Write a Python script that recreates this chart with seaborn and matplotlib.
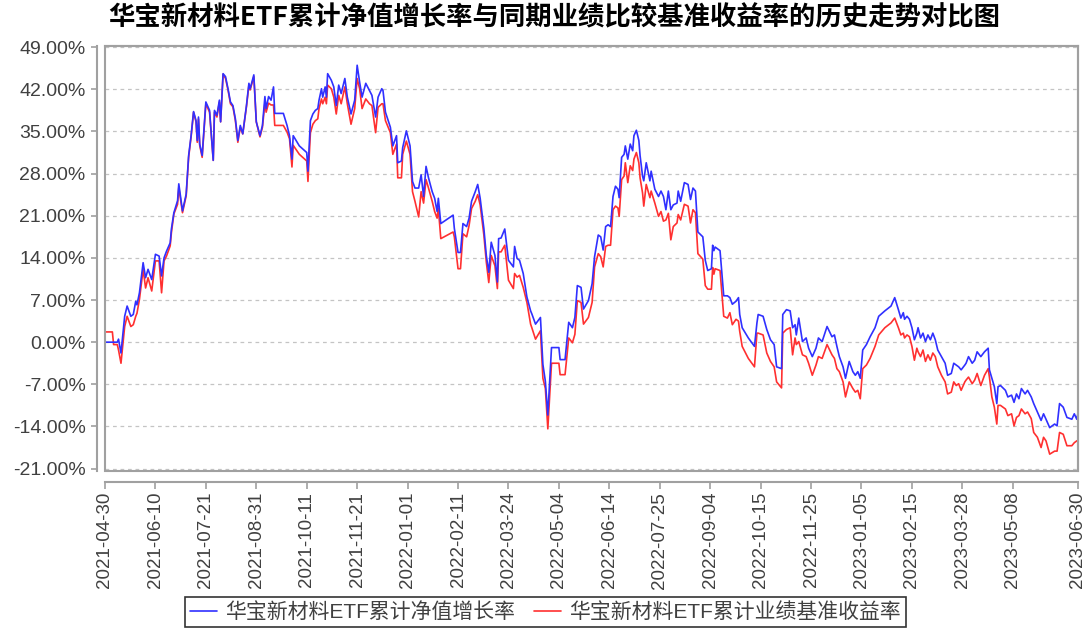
import numpy as np
import pandas as pd
import matplotlib
matplotlib.use("Agg")
import matplotlib.pyplot as plt
import matplotlib.dates as mdates
from matplotlib.ticker import FuncFormatter, FixedLocator, FixedFormatter
from matplotlib.patches import Rectangle
from matplotlib.lines import Line2D
import seaborn as sns

# ---------------- data ----------------
title = "华宝新材料ETF累计净值增长率与同期业绩比较基准收益率的历史走势对比图"
series_names = ["华宝新材料ETF累计净值增长率", "华宝新材料ETF累计业绩基准收益率"]
start_date = "2021-04-30"

day_offsets = [
    0, 6, 7, 10, 11, 13, 16, 18, 21, 23, 25, 26, 28, 31, 33, 35, 38, 41, 44, 46,
    48, 50, 53, 54, 56, 59, 60, 63, 66, 68, 70, 72, 74, 75, 76, 77, 79, 82, 85, 88,
    89, 91, 93, 94, 96, 98, 100, 102, 104, 106, 108, 110, 112, 115, 117, 118, 121, 123, 126, 128,
    130, 131, 133, 135, 137, 138, 145, 148, 150, 152, 153,
    158, 164, 165, 167, 169, 171, 173, 174, 176, 177, 179, 180, 181, 184, 186, 188, 190, 192, 195, 197,
    200, 203, 205, 207, 209, 212, 215, 217, 220, 222, 225, 226, 228, 232, 234, 237, 238, 241, 242, 245,
    248, 250, 252, 255, 257, 259, 261, 263, 266, 268, 270, 271, 273, 283, 284, 287, 289, 291, 294, 296,
    298, 301, 303, 305, 308, 310, 312, 314, 317, 319, 320,
    322, 325, 328, 332, 333, 335, 337, 340, 343, 346, 347, 350, 354, 356, 358, 360, 363, 369, 370, 374,
    377, 380, 382, 384, 387, 389, 393, 396, 398, 401, 403, 405, 407, 409, 411, 413, 415, 417, 418, 420,
    422, 423, 425, 427, 429, 430, 432, 434, 435, 437, 438, 440, 443, 444, 447, 450, 452, 454, 456, 458,
    460, 462, 465, 466, 468, 471, 474, 476, 478, 480,
    482, 486, 488, 490, 493, 494, 495, 496, 500, 503, 506, 508, 510, 513, 515, 516, 518, 523, 528, 530,
    531, 535, 538, 541, 544, 546, 550, 551, 554, 557, 559, 561, 562, 564, 567, 570, 572, 575, 578, 580,
    583, 587, 591, 593, 595, 597, 600, 602, 605, 608, 610, 612, 614, 616, 619, 622, 626, 629, 634, 639,
    642, 645, 647, 649, 650, 652, 654, 656, 658, 660, 661, 663, 665, 667, 669, 671, 673, 675, 677, 680,
    683, 685, 688, 690, 692, 694, 696, 699, 700, 702, 705, 707, 709, 712, 715, 718, 719, 721, 723, 725,
    726, 728, 732, 734, 737, 739, 741, 743, 745, 748, 750, 753, 755, 758, 761, 763, 765, 768, 772, 774,
    776, 779, 782, 786, 788, 790, 791,
]

nav_growth = [
    0.0, 0.0, 0.0, 0.0, 0.5, -1.8, 4.3, 6.0, 4.3, 4.6, 6.8, 6.2, 8.2, 13.2, 10.7, 12.1, 10.4, 14.6, 14.3, 11.0,
    14.0, 15.1, 16.5, 18.8, 21.5, 23.5, 26.3, 21.8, 24.6, 31.0, 34.3, 38.3, 36.8, 33.5, 37.4, 32.9, 31.0, 39.9, 38.5, 30.2,
    38.5, 37.7, 40.2, 36.6, 44.6, 44.1, 42.1, 39.9, 39.3, 37.1, 33.5, 36.0, 34.6, 39.3, 43.0, 42.1, 44.4, 36.6, 34.3, 36.0,
    40.8, 38.8, 40.8, 40.2, 42.4, 38.0, 38.0, 36.0, 34.3, 30.4, 34.3,
    32.6, 31.5, 28.4, 36.8, 37.9, 38.5, 38.8, 40.2, 42.1, 40.7, 42.4, 40.7, 44.6, 43.5, 42.4, 39.3, 42.7, 41.3, 43.8, 40.7,
    37.9, 40.2, 46.0, 43.2, 40.7, 43.0, 41.8, 41.0, 37.4, 40.7, 42.1, 41.8, 38.2, 35.7, 32.6, 34.3, 29.8, 30.1, 32.3, 35.1,
    32.6, 26.7, 25.6, 25.6, 27.8, 24.2, 29.2, 27.3, 25.0, 23.9, 21.7, 23.9, 19.7, 21.1, 18.9, 14.9, 14.9, 19.7, 19.2, 20.6,
    23.4, 25.0, 26.2, 23.9, 18.9, 14.4, 11.6, 16.6, 14.4, 10.0, 17.2,
    17.3, 18.8, 13.6, 12.5, 15.9, 13.9, 13.6, 11.4, 7.5, 5.2, 4.7, 3.0, 4.1, -3.7, -6.5, -12.1, -0.9, -0.9, -2.9, -2.9,
    3.3, 2.4, 4.1, 9.4, 9.1, 5.5, 6.9, 9.7, 14.2, 17.8, 17.5, 15.3, 19.2, 19.5, 19.2, 24.2, 25.9, 25.4, 24.0, 30.7,
    31.2, 32.6, 30.4, 32.9, 31.8, 34.3, 35.2, 33.5, 31.0, 27.6, 26.8, 29.8, 26.8, 28.4, 25.4, 24.2, 25.1, 24.2, 22.0, 25.1,
    22.0, 22.8, 23.1, 25.1, 23.4, 26.5, 26.2, 23.7, 25.6, 25.1,
    18.3, 17.5, 13.6, 11.9, 12.2, 16.1, 15.2, 15.8, 15.2, 7.7, 7.7, 7.4, 6.3, 6.8, 7.4, 4.6, 2.4, 0.7, -0.7, 3.2,
    4.6, 4.3, 2.1, 0.4, -0.4, -4.1, -4.4, 4.6, 5.4, 5.2, 2.4, 2.9, 1.2, 4.0, 0.1, 0.7, -1.0, -2.4, -1.0, 0.7,
    0.1, 2.6, 0.9, 1.2, -0.7, -2.4, -4.1, -6.0, -3.2, -4.9, -5.5, -4.9, -6.0, -1.3, -0.4, 0.9, 2.4, 4.3, 5.2, 6.0,
    7.4, 5.4, 4.0, 4.9, 3.8, 4.3, 3.8, 2.4, 0.4, 1.5, 2.4, 0.7, 1.5, 0.1, 1.2, 0.4, 1.5, 0.4, -1.3, -2.4,
    -3.5, -5.5, -5.2, -3.5, -3.8, -4.1, -4.6, -3.8, -3.5, -2.4, -3.5, -3.0, -1.6, -2.4, -1.6, -1.0, -4.6, -6.0, -7.4, -10.2,
    -7.4, -7.2, -8.0, -9.1, -8.8, -10.0, -8.6, -9.4, -7.7, -8.6, -8.0, -9.1, -10.2, -11.6, -13.0, -11.9, -12.8, -14.2, -13.6, -13.9,
    -10.2, -10.8, -12.5, -12.8, -11.9, -12.8, -11.8,
]

benchmark_return = [
    1.7, 1.7, -0.4, -0.4, -1.3, -3.5, 2.6, 4.3, 2.6, 2.9, 4.3, 4.8, 7.1, 12.1, 9.0, 10.7, 8.5, 13.5, 13.5, 8.2,
    13.5, 14.3, 16.0, 18.2, 21.3, 22.9, 25.7, 21.5, 24.3, 30.7, 34.1, 38.2, 36.6, 33.2, 37.1, 32.7, 30.7, 39.6, 38.2, 30.2,
    38.2, 37.4, 39.9, 36.6, 44.5, 43.8, 41.9, 39.6, 39.1, 36.8, 33.2, 35.7, 34.6, 39.1, 42.7, 41.9, 44.1, 36.6, 34.1, 35.7,
    39.7, 38.2, 39.7, 39.4, 39.4, 36.0, 36.0, 34.9, 33.8, 29.1, 32.7,
    31.2, 30.1, 26.7, 34.8, 36.2, 36.8, 37.1, 38.8, 40.4, 39.6, 40.7, 39.6, 42.7, 42.1, 40.7, 37.9, 41.0, 39.6, 42.4, 39.6,
    36.2, 38.8, 43.8, 42.1, 38.8, 40.4, 39.6, 39.3, 34.8, 39.0, 39.6, 39.6, 36.8, 34.8, 31.2, 32.9, 27.3, 27.3, 31.2, 33.4,
    31.2, 25.0, 23.4, 20.8, 25.0, 23.1, 27.0, 25.6, 23.4, 21.7, 20.6, 22.2, 17.2, 18.3, 17.5, 12.2, 12.2, 18.0, 17.5, 19.4,
    22.2, 23.4, 24.5, 22.8, 17.8, 13.3, 9.9, 14.4, 12.7, 8.9, 15.0,
    15.0, 16.1, 10.3, 8.9, 11.4, 10.8, 11.1, 9.1, 6.6, 3.0, 2.4, 0.5, 1.9, -6.0, -7.7, -14.4, -3.5, -3.5, -5.4, -5.4,
    0.7, -0.1, 1.3, 6.9, 6.6, 3.0, 4.1, 6.6, 12.5, 14.7, 14.2, 12.5, 15.9, 16.1, 16.1, 22.0, 22.6, 22.3, 20.9, 27.0,
    27.6, 29.8, 26.5, 29.3, 28.5, 30.4, 31.5, 29.8, 27.3, 24.8, 22.6, 26.2, 24.0, 25.1, 23.1, 20.9, 21.7, 20.1, 20.3, 21.4,
    17.0, 19.2, 19.8, 21.2, 20.3, 22.9, 22.6, 19.8, 22.0, 21.5,
    14.7, 13.8, 9.4, 8.8, 8.8, 12.4, 11.3, 12.2, 11.9, 4.3, 4.0, 4.9, 2.9, 3.8, 3.5, 1.8, -0.7, -2.7, -4.1, 1.5,
    1.5, 1.2, -1.8, -3.2, -4.1, -6.6, -7.6, 1.5, 2.1, 2.4, -2.1, 0.7, -0.4, 0.1, -2.1, -2.4, -3.5, -5.5, -3.8, -2.4,
    -2.7, -0.4, -2.1, -2.7, -4.4, -4.9, -6.6, -9.1, -6.6, -7.7, -8.3, -8.0, -9.4, -4.4, -3.8, -2.7, -0.7, 1.2, 2.4, 3.2,
    4.0, 2.4, 1.2, 1.5, 0.7, 1.2, 0.9, -0.7, -3.0, -1.0, -1.6, -2.4, -1.3, -3.2, -2.1, -3.0, -1.8, -2.4, -4.1, -5.5,
    -6.6, -8.6, -8.3, -6.6, -7.2, -6.9, -8.0, -6.6, -6.3, -5.8, -6.9, -6.3, -5.2, -7.2, -5.5, -4.4, -5.8, -9.1, -10.8, -13.6,
    -10.5, -10.5, -11.1, -12.2, -11.9, -13.9, -12.5, -12.2, -11.1, -11.9, -11.6, -12.7, -15.0, -15.8, -17.5, -15.8, -16.4, -18.6, -18.1, -18.1,
    -15.0, -15.3, -17.2, -17.2, -16.7, -16.4, -16.3,
]

x_tick_labels = [
    "2021-04-30", "2021-06-10", "2021-07-21", "2021-08-31", "2021-10-11", "2021-11-21",
    "2022-01-01", "2022-02-11", "2022-03-24", "2022-05-04", "2022-06-14", "2022-07-25",
    "2022-09-04", "2022-10-15", "2022-11-25", "2023-01-05", "2023-02-15", "2023-03-28",
    "2023-05-08", "2023-06-30",
]
y_ticks = [-21, -14, -7, 0, 7, 14, 21, 28, 35, 42, 49]

assert len(day_offsets) == len(nav_growth) == len(benchmark_return), (
    len(day_offsets), len(nav_growth), len(benchmark_return))

dates = pd.Timestamp(start_date) + pd.to_timedelta(day_offsets, unit="D")
df = pd.DataFrame({"date": dates, "nav": nav_growth, "bench": benchmark_return})

# ---------------- style ----------------
sns.set_theme(style="white")
plt.rcParams["font.family"] = ["Liberation Sans", "Noto Sans CJK SC", "DejaVu Sans"]

blue = "#3030ff"
red = "#ff3030"
axis_gray = "#a0a0a0"
text_gray = "#404040"

fig = plt.figure(figsize=(10.88, 6.28), dpi=100)
ax = fig.add_axes([0.0965, 0.25, 0.8943, 0.6768])

sns.lineplot(data=df, x="date", y="bench", ax=ax, color=red, linewidth=1.2, label=series_names[1])
sns.lineplot(data=df, x="date", y="nav", ax=ax, color=blue, linewidth=1.2, label=series_names[0])

ax.set_xlim(pd.Timestamp(x_tick_labels[0]), pd.Timestamp(x_tick_labels[-1]))
ax.set_ylim(-21.4, 49.2)

ax.xaxis.set_major_locator(FixedLocator(mdates.date2num(pd.to_datetime(x_tick_labels))))
ax.xaxis.set_major_formatter(FixedFormatter(x_tick_labels))
ax.yaxis.set_major_locator(FixedLocator(y_ticks))
ax.yaxis.set_major_formatter(FuncFormatter(lambda v, p: f"{v:.2f}%"))

ax.set_xlabel("")
ax.set_ylabel("")

ax.grid(axis="y", color="#c4c4c4", linestyle=(0, (3, 3)), linewidth=0.9)
ax.grid(axis="x", visible=False)

for side in ["top", "right"]:
    ax.spines[side].set_color(axis_gray)
    ax.spines[side].set_linewidth(1.5)
ax.spines["left"].set_position(("outward", 6))
ax.spines["bottom"].set_position(("outward", 8))
for side in ["left", "bottom"]:
    ax.spines[side].set_color(axis_gray)
    ax.spines[side].set_linewidth(1.5)

ax.add_patch(Rectangle((0, 0), 1, 1, transform=ax.transAxes, fill=False,
                       edgecolor=axis_gray, linewidth=1.5, clip_on=False, zorder=5))

ax.tick_params(axis="y", which="major", direction="out", length=4, width=1.2,
               color=axis_gray, labelsize=14, labelcolor=text_gray, pad=4, left=True)
ax.tick_params(axis="x", which="major", direction="out", length=5, width=1.2,
               color=axis_gray, labelsize=13.5, labelcolor=text_gray, pad=2, bottom=True,
               labelrotation=90)

ax.get_legend().remove()

handles = [Line2D([0], [0], color=blue, lw=1.2), Line2D([0], [0], color=red, lw=1.2)]
leg = fig.legend(handles, series_names, loc="upper center", bbox_to_anchor=(0.5014, 0.049),
                 ncol=2, frameon=True, fancybox=False, edgecolor="black", fontsize=15,
                 handlelength=1.3, handletextpad=0.4, columnspacing=0.9, borderpad=0.25,
                 borderaxespad=0)
leg.get_frame().set_linewidth(1.2)
for t in leg.get_texts():
    t.set_color(text_gray)

fig.text(0.509, 1 - 18 / 628, title, ha="center", va="center", fontsize=19,
         fontweight="bold", color="black", family=["Noto Sans CJK SC", "DejaVu Sans"])

fig.savefig("out.png", dpi=100)
